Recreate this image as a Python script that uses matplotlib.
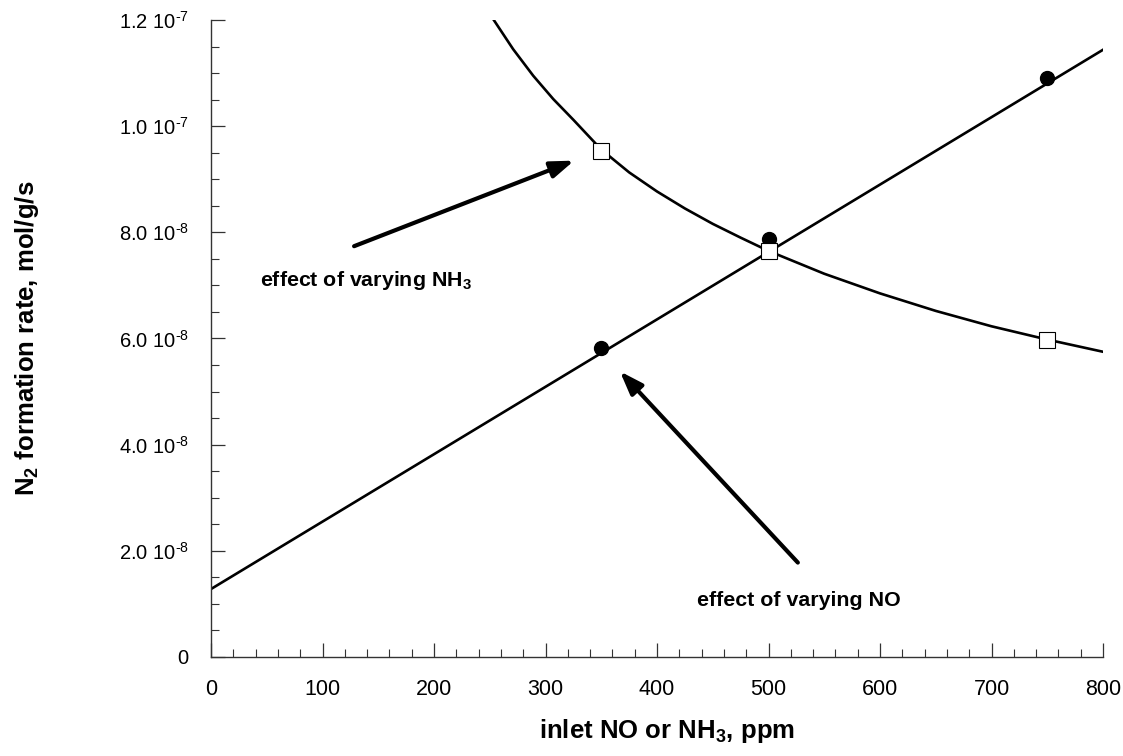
import matplotlib
matplotlib.use("Agg")
import math
import matplotlib.pyplot as plt
from matplotlib.ticker import MultipleLocator, FuncFormatter

plt.rcParams['font.family'] = ['Liberation Sans', 'DejaVu Sans']
plt.rcParams['mathtext.fontset'] = 'custom'
plt.rcParams['mathtext.rm'] = 'Liberation Sans'
plt.rcParams['mathtext.bf'] = 'Liberation Sans:bold'

# measured points
x_no = [350, 500, 750]
rate_no = [5.83e-8, 7.87e-8, 1.09e-7]
x_nh3 = [350, 500, 750]
rate_nh3 = [9.53e-8, 7.64e-8, 5.98e-8]

# fitted line (varying NO), read at its ends
fit_no_x = [0, 800]
fit_no_y = [1.28e-8, 1.144e-7]

# fitted curve (varying NH3)
fit_nh3_x = [253, 271, 289, 307, 325, 350, 375, 400, 425, 450, 475, 500,
             550, 600, 650, 700, 750, 800]
fit_nh3_y = [1.202e-7, 1.145e-7, 1.095e-7, 1.051e-7, 1.012e-7, 9.56e-8, 9.13e-8,
             8.77e-8, 8.45e-8, 8.16e-8, 7.90e-8, 7.65e-8, 7.22e-8, 6.85e-8,
             6.52e-8, 6.23e-8, 5.98e-8, 5.75e-8]

fig = plt.figure(figsize=(11.23, 7.56), dpi=100)
ax = fig.add_axes([0.1879, 0.131, 0.7943, 0.8425])

ax.plot(fit_no_x, fit_no_y, color='black', lw=1.9, zorder=2)
ax.plot(fit_nh3_x, fit_nh3_y, color='black', lw=1.9, zorder=2)
ax.plot(x_no, rate_no, 'o', color='black', markersize=10, zorder=3)
ax.plot(x_nh3, rate_nh3, 's', mfc='white', mec='black', mew=0.8, markersize=11, zorder=4)

ax.set_xlim(0, 800)
ax.set_ylim(0, 1.2e-7)

ax.xaxis.set_major_locator(MultipleLocator(100))
ax.xaxis.set_minor_locator(MultipleLocator(20))
ax.yaxis.set_major_locator(MultipleLocator(2e-8))
ax.yaxis.set_minor_locator(MultipleLocator(5e-9))


def fmt(v, pos):
    if abs(v) < 1e-12:
        return '0'
    exp = math.floor(math.log10(abs(v)) + 1e-9)
    m = v / 10 ** exp
    return '%.1f 10$^{\u2010%d}$' % (m, -exp)


ax.yaxis.set_major_formatter(FuncFormatter(fmt))

for s in ['top', 'right']:
    ax.spines[s].set_visible(False)
for s in ['left', 'bottom']:
    ax.spines[s].set_linewidth(1.0)
    ax.spines[s].set_color('#333333')

ax.tick_params(which='major', direction='in', length=10, width=0.9,
               colors='#333333', labelcolor='black')
ax.tick_params(which='minor', direction='in', length=6, width=0.8, colors='#333333')
ax.tick_params(axis='x', labelsize=15.5, pad=16)
ax.tick_params(axis='y', labelsize=14.5, pad=16)

ax.set_xlabel(r'inlet NO or NH$_\mathbf{3}$, ppm', fontsize=18.5, fontweight='bold')
ax.xaxis.set_label_coords(0.511, -0.094)
ax.set_ylabel(r'N$_\mathbf{2}$ formation rate, mol/g/s', fontsize=18.5, fontweight='bold',
              labelpad=56)

ax.annotate('', xy=(328, 9.37e-8), xytext=(126, 7.72e-8),
            arrowprops=dict(arrowstyle='-|>,head_length=1.4,head_width=0.5', color='black', lw=3))
ax.annotate('', xy=(365, 5.42e-8), xytext=(528, 1.74e-8),
            arrowprops=dict(arrowstyle='-|>,head_length=1.4,head_width=0.5', color='black', lw=3))
ax.text(44, 7.1e-8, r'effect of varying NH$_\mathbf{3}$', fontsize=15.4, fontweight='bold',
        va='center', ha='left')
ax.text(436, 1.06e-8, 'effect of varying NO', fontsize=15.4, fontweight='bold',
        va='center', ha='left')

plt.savefig('out.png', dpi=100)
